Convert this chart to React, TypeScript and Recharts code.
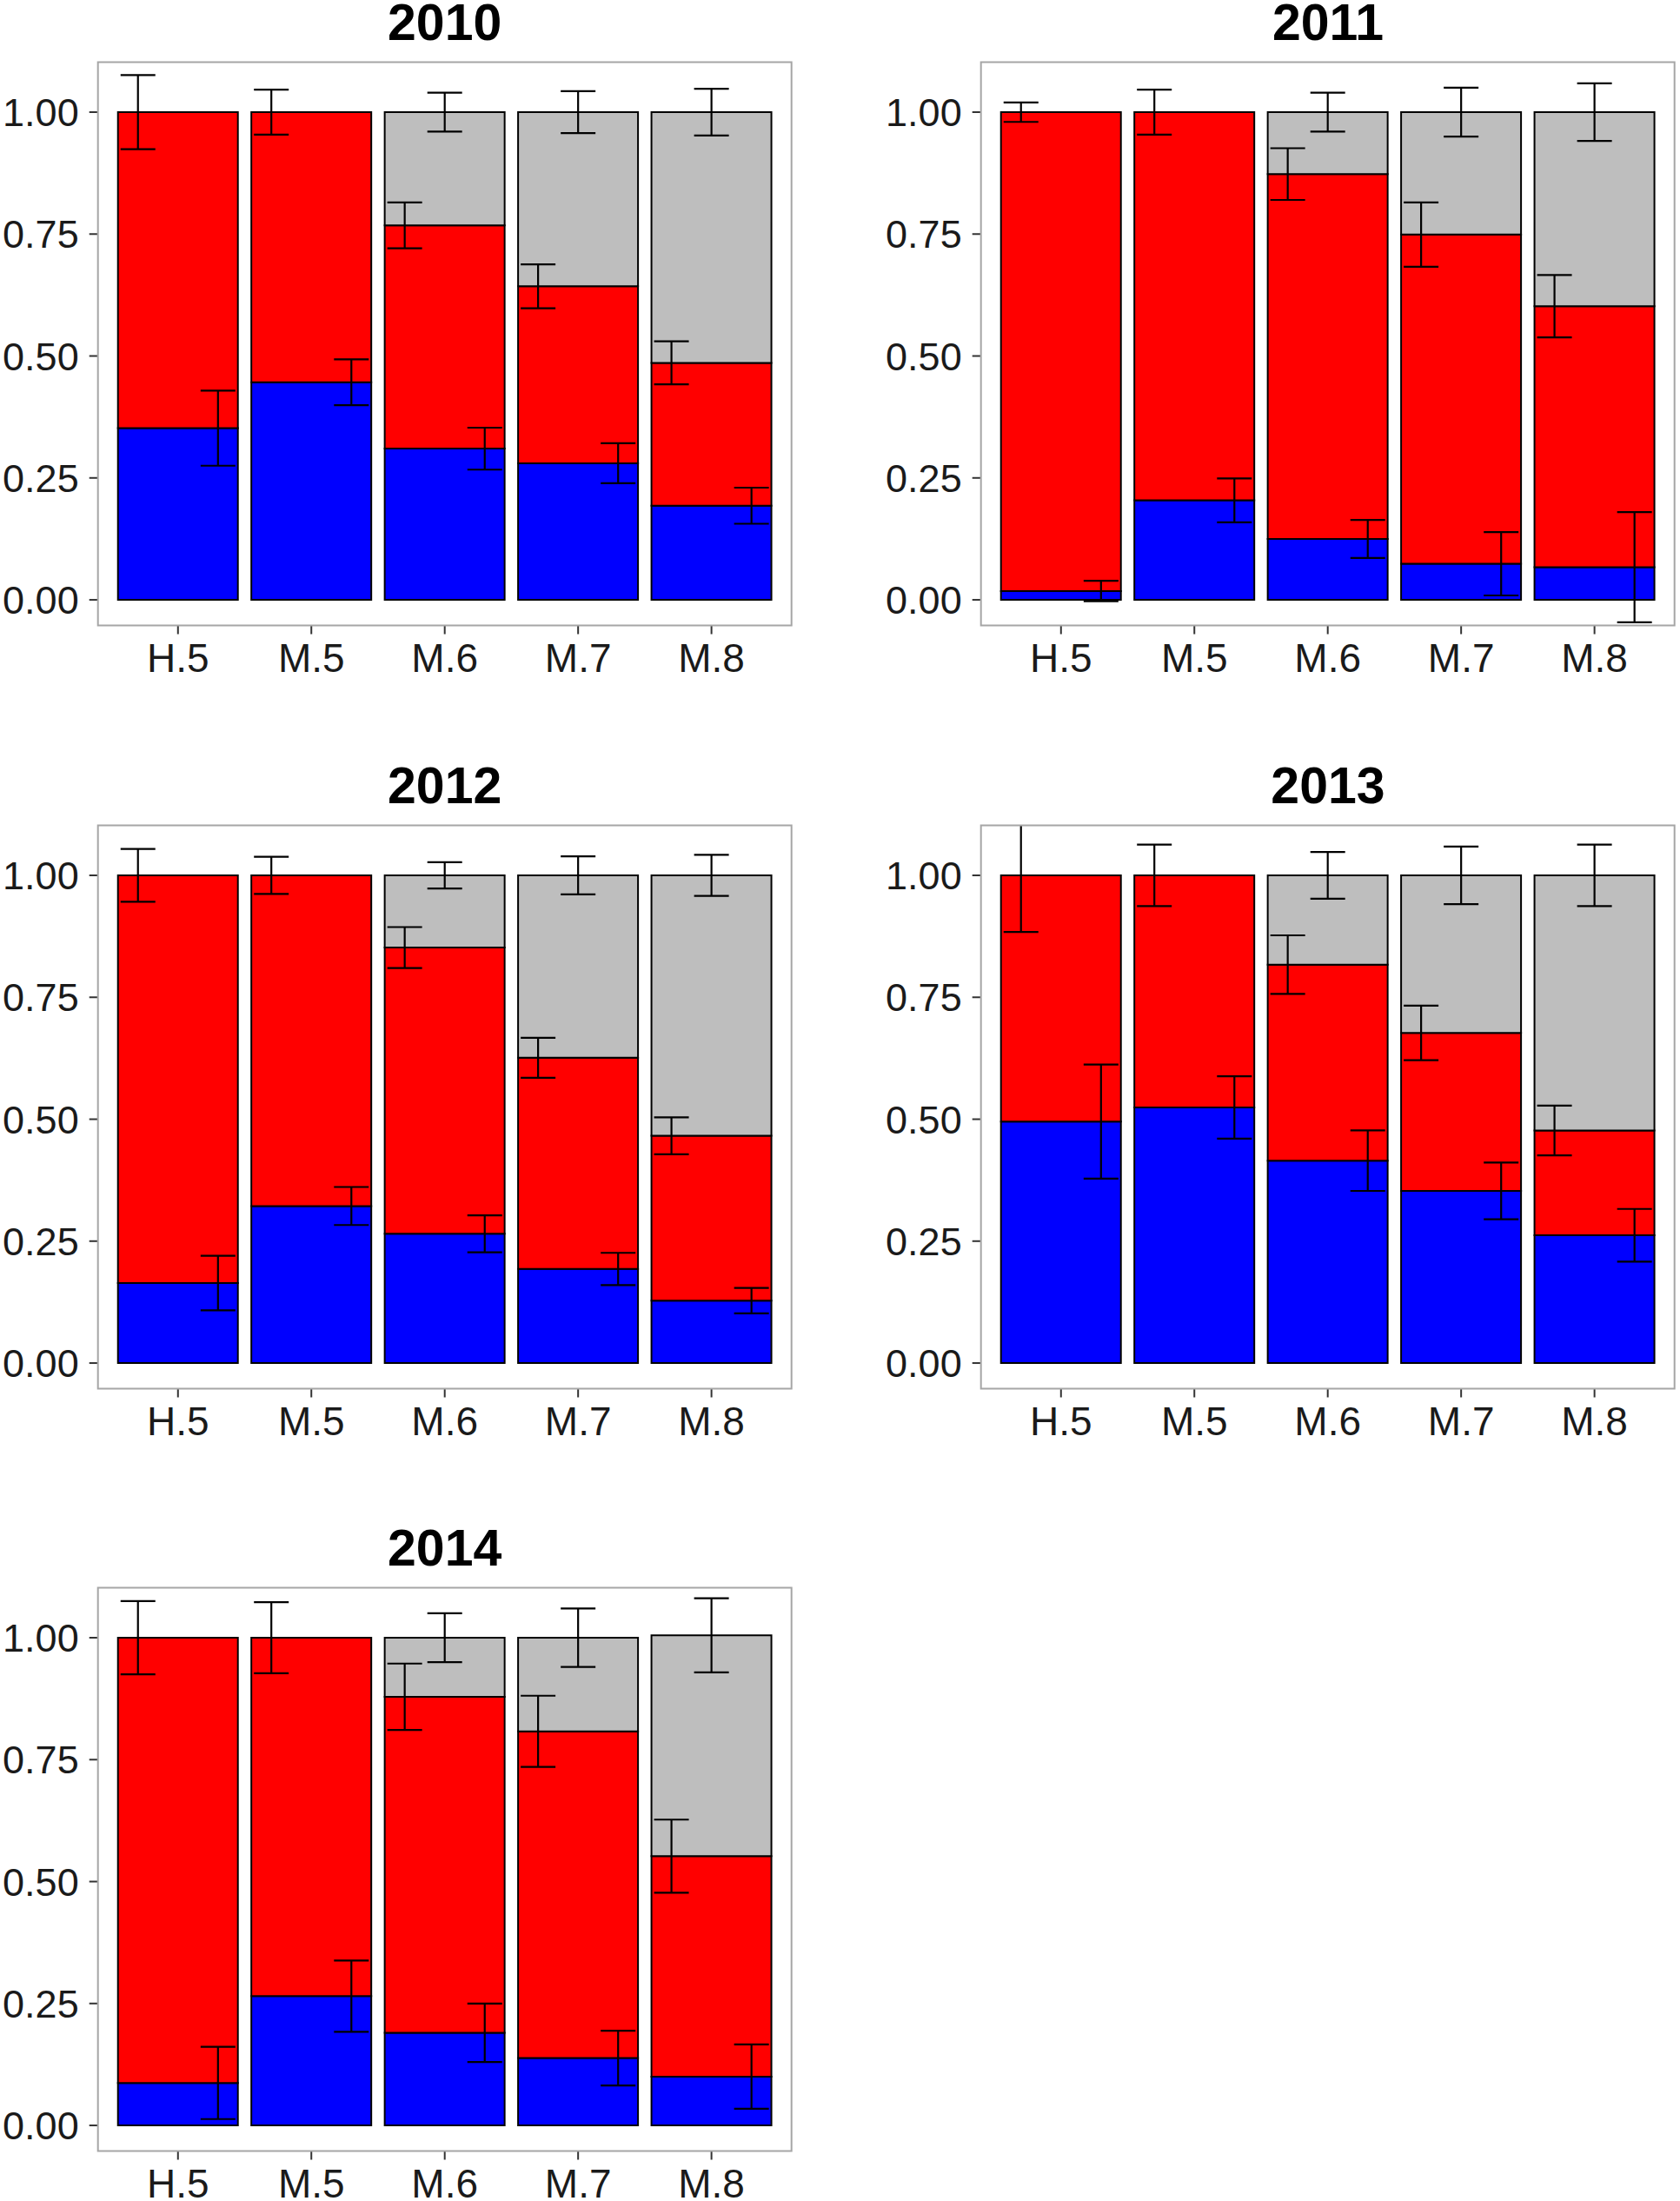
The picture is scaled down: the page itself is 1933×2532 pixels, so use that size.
import React from "react";
import {
  ComposedChart,
  Bar,
  Scatter,
  ErrorBar,
  XAxis,
  YAxis,
  ReferenceArea,
} from "recharts";

const years = ["2010", "2011", "2012", "2013", "2014"];
const categories = ["H.5", "M.5", "M.6", "M.7", "M.8"];
const yTicks = [0, 0.25, 0.5, 0.75, 1];

// share of each class per year (rows) and category (columns)
const blueShare = [
  [0.352, 0.446, 0.31, 0.28, 0.193],
  [0.018, 0.204, 0.125, 0.074, 0.067],
  [0.164, 0.322, 0.265, 0.193, 0.128],
  [0.495, 0.524, 0.415, 0.353, 0.262],
  [0.087, 0.265, 0.19, 0.138, 0.1],
];
const redShare = [
  [0.648, 0.554, 0.458, 0.363, 0.293],
  [0.982, 0.796, 0.748, 0.675, 0.535],
  [0.836, 0.678, 0.587, 0.433, 0.338],
  [0.505, 0.476, 0.402, 0.324, 0.215],
  [0.913, 0.735, 0.689, 0.67, 0.452],
];
const grayShare = [
  [0, 0, 0.232, 0.357, 0.514],
  [0, 0, 0.127, 0.251, 0.398],
  [0, 0, 0.148, 0.374, 0.534],
  [0, 0, 0.183, 0.323, 0.523],
  [0, 0, 0.121, 0.192, 0.453],
];

// half-widths of the error bars
const blueErr = [
  [0.077, 0.047, 0.043, 0.041, 0.037],
  [0.021, 0.045, 0.039, 0.065, 0.113],
  [0.056, 0.039, 0.038, 0.033, 0.026],
  [0.117, 0.064, 0.062, 0.058, 0.054],
  [0.074, 0.073, 0.06, 0.056, 0.066],
];
const redErr = [
  [0.076, 0.046, 0.047, 0.045, 0.044],
  [0.02, 0.046, 0.053, 0.066, 0.064],
  [0.054, 0.038, 0.042, 0.041, 0.038],
  [0.116, 0.063, 0.06, 0.056, 0.051],
  [0.075, 0.073, 0.068, 0.073, 0.075],
];
const grayErr = [
  [0, 0, 0.04, 0.043, 0.048],
  [0, 0, 0.04, 0.05, 0.059],
  [0, 0, 0.027, 0.039, 0.042],
  [0, 0, 0.048, 0.059, 0.063],
  [0, 0, 0.05, 0.06, 0.076],
];

const fontFamily = '"Liberation Sans", Arial, Helvetica, sans-serif';
const yDomain: [number, number] = [-0.0525, 1.1025];
const xDomain: [number, number] = [0.4, 5.6];

const CHART_W = 916;
const CHART_H = 800;
const Y_AXIS_W = 112.7;
const PLOT_W = 798;
const colX = [0, 1016.3];
const rowY = [0, 877.7, 1755.4];

const noShape = () => <g />;

function Panel({ idx }: { idx: number }) {
  const rows = categories.map((cat, i) => ({
    cat,
    blue: blueShare[idx][i],
    red: redShare[idx][i],
    gray: grayShare[idx][i],
  }));

  const errPoints = categories.flatMap((_, i) => {
    const b = blueShare[idx][i];
    const r = b + redShare[idx][i];
    const g = r + grayShare[idx][i];
    const pts = [
      { x: i + 1 + 0.3, y: b, e: blueErr[idx][i] },
      { x: i + 1 - 0.3, y: r, e: redErr[idx][i] },
    ];
    if (grayShare[idx][i] > 0) pts.push({ x: i + 1, y: g, e: grayErr[idx][i] });
    return pts;
  });

  const col = idx % 2;
  const row = Math.floor(idx / 2);

  return (
    <div
      style={{
        position: "absolute",
        left: colX[col],
        top: rowY[row],
        width: CHART_W,
        height: CHART_H,
      }}
    >
      <div
        style={{
          position: "absolute",
          left: Y_AXIS_W,
          top: 0,
          width: PLOT_W,
          textAlign: "center",
          fontFamily,
          fontWeight: "bold",
          fontSize: 59,
          lineHeight: "52px",
          color: "#000",
          zIndex: 2,
        }}
      >
        {years[idx]}
      </div>
      <ComposedChart
        width={CHART_W}
        height={CHART_H}
        data={rows}
        margin={{ top: 71.5, right: CHART_W - Y_AXIS_W - PLOT_W, bottom: 0, left: 0 }}
        barCategoryGap="5%"
      >
        <XAxis
          dataKey="cat"
          padding={{ left: PLOT_W / 52, right: PLOT_W / 52 }}
          height={80.5}
          axisLine={false}
          tickLine={{ stroke: "#333", strokeWidth: 2 }}
          tickSize={10}
          tickMargin={11}
          tick={{ fontSize: 46, fill: "#1a1a1a", fontFamily }}
          interval={0}
        />
        <XAxis
          xAxisId="num"
          type="number"
          dataKey="x"
          domain={xDomain}
          allowDataOverflow
          hide
        />
        <YAxis
          domain={yDomain}
          ticks={yTicks}
          allowDataOverflow
          width={Y_AXIS_W}
          axisLine={false}
          tickLine={{ stroke: "#333", strokeWidth: 2 }}
          tickSize={10}
          tickMargin={12}
          tickFormatter={(v: number) => v.toFixed(2)}
          tick={{ fontSize: 45, fill: "#1a1a1a", fontFamily }}
        />
        <Bar dataKey="blue" stackId="s" fill="#0000FF" stroke="#000" strokeWidth={2} isAnimationActive={false} />
        <Bar dataKey="red" stackId="s" fill="#FF0000" stroke="#000" strokeWidth={2} isAnimationActive={false} />
        <Bar dataKey="gray" stackId="s" fill="#BEBEBE" stroke="#000" strokeWidth={2} isAnimationActive={false} />
        <Scatter
          data={errPoints}
          dataKey="y"
          xAxisId="num"
          shape={noShape}
          isAnimationActive={false}
        >
          <ErrorBar
            dataKey="e"
            direction="y"
            width={20}
            stroke="#000"
            strokeWidth={2.2}
            isAnimationActive={false}
          />
        </Scatter>
        {/* white band above the panel hides error bars running past the top limit */}
        <ReferenceArea
          xAxisId="num"
          x1={xDomain[0]}
          x2={xDomain[1]}
          y1={yDomain[1]}
          y2={1.25}
          fill="#fff"
          fillOpacity={1}
          stroke="none"
          ifOverflow="visible"
          zIndex={1000}
        />
        <ReferenceArea
          xAxisId="num"
          x1={xDomain[0]}
          x2={xDomain[1]}
          y1={yDomain[0]}
          y2={yDomain[1]}
          fill="none"
          fillOpacity={0}
          stroke="#a6a6a6"
          strokeWidth={2}
          ifOverflow="visible"
          zIndex={1001}
        />
      </ComposedChart>
    </div>
  );
}

export default function App() {
  return (
    <div
      style={{
        position: "absolute",
        left: 0,
        top: 0,
        width: 1933,
        height: 2532,
        overflow: "hidden",
        background: "#fff",
      }}
    >
      {years.map((y, i) => (
        <Panel key={y} idx={i} />
      ))}
    </div>
  );
}
